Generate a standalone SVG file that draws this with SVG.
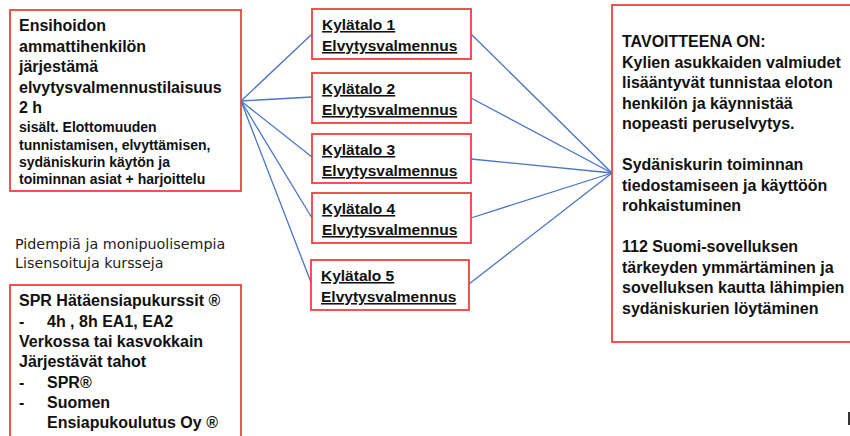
<svg xmlns="http://www.w3.org/2000/svg" width="850" height="436" viewBox="0 0 850 436">
<style>
.box{fill:#fff;stroke:#f04040;stroke-width:1.8}
.b{font-family:"Liberation Sans",Arial,sans-serif;font-weight:bold;fill:#111}
.t16{font-size:16px}
.t14{font-size:14px}
.t15{font-size:15.5px;text-decoration:underline}
.reg{font-family:"DejaVu Sans",Verdana,sans-serif;font-size:14.3px;fill:#222}
.con line{stroke:#4a74c4;stroke-width:1.3}
</style>
<rect width="850" height="436" fill="#fff"/>
<g class="con">
<line x1="241" y1="101" x2="312" y2="34"/>
<line x1="241" y1="101" x2="312" y2="97"/>
<line x1="241" y1="101" x2="312" y2="157"/>
<line x1="241" y1="101" x2="312" y2="218"/>
<line x1="241" y1="101" x2="312" y2="285"/>
<line x1="471" y1="34" x2="612" y2="173"/>
<line x1="471" y1="98" x2="612" y2="173"/>
<line x1="471" y1="159" x2="612" y2="173"/>
<line x1="471" y1="218" x2="612" y2="173"/>
<line x1="469" y1="284" x2="612" y2="173"/>
</g>
<g id="ensihoito">
<rect class="box" x="10" y="10" width="231" height="181"/>
<text class="b t16" x="19"><tspan x="19" y="31">Ensihoidon</tspan><tspan x="19" y="52">ammattihenkilön</tspan><tspan x="19" y="72">järjestämä</tspan><tspan x="19" y="93">elvytysvalmennustilaisuus</tspan><tspan x="19" y="113">2 h</tspan></text>
<text class="b t14" x="19"><tspan x="19" y="132">sisält. Elottomuuden</tspan><tspan x="19" y="150">tunnistamisen, elvyttämisen,</tspan><tspan x="19" y="167">sydäniskurin käytön ja</tspan><tspan x="19" y="184">toiminnan asiat + harjoittelu</tspan></text>
</g>
<g id="lisatieto">
<text class="reg"><tspan x="15" y="249">Pidempiä ja monipuolisempia</tspan><tspan x="15" y="268">Lisensoituja kursseja</tspan></text>
</g>
<g id="spr">
<rect class="box" x="10" y="285" width="231" height="160"/>
<text class="b t16"><tspan x="19" y="306">SPR Hätäensiapukurssit ®</tspan><tspan x="19" y="327">-</tspan><tspan x="47" y="327">4h , 8h EA1, EA2</tspan><tspan x="19" y="347">Verkossa tai kasvokkain</tspan><tspan x="19" y="367">Järjestävät tahot</tspan><tspan x="19" y="388">-</tspan><tspan x="47" y="388">SPR®</tspan><tspan x="19" y="408">-</tspan><tspan x="47" y="408">Suomen</tspan><tspan x="47" y="428">Ensiapukoulutus Oy ®</tspan></text>
</g>
<g id="kylatalo1">
<rect class="box" x="312" y="9" width="159" height="50"/>
<text class="b t15"><tspan x="322" y="30">Kylätalo 1</tspan><tspan x="322" y="51">Elvytysvalmennus</tspan></text>
</g>
<g id="kylatalo2">
<rect class="box" x="312" y="73" width="159" height="50"/>
<text class="b t15"><tspan x="322" y="94">Kylätalo 2</tspan><tspan x="322" y="115">Elvytysvalmennus</tspan></text>
</g>
<g id="kylatalo3">
<rect class="box" x="312" y="134" width="159" height="49"/>
<text class="b t15"><tspan x="322" y="155">Kylätalo 3</tspan><tspan x="322" y="176">Elvytysvalmennus</tspan></text>
</g>
<g id="kylatalo4">
<rect class="box" x="312" y="193" width="159" height="50"/>
<text class="b t15"><tspan x="322" y="214">Kylätalo 4</tspan><tspan x="322" y="235">Elvytysvalmennus</tspan></text>
</g>
<g id="kylatalo5">
<rect class="box" x="311" y="260" width="158" height="50"/>
<text class="b t15"><tspan x="321" y="281">Kylätalo 5</tspan><tspan x="321" y="302">Elvytysvalmennus</tspan></text>
</g>
<g id="tavoite">
<rect class="box" x="612" y="5" width="260" height="337"/>
<text class="b t16"><tspan x="622" y="47">TAVOITTEENA ON:</tspan><tspan x="622" y="67.5">Kylien asukkaiden valmiudet</tspan><tspan x="622" y="88">lisääntyvät tunnistaa eloton</tspan><tspan x="622" y="108.5">henkilön ja käynnistää</tspan><tspan x="622" y="129">nopeasti peruselvytys.</tspan><tspan x="622" y="170">Sydäniskurin toiminnan</tspan><tspan x="622" y="190.5">tiedostamiseen ja käyttöön</tspan><tspan x="622" y="211">rohkaistuminen</tspan><tspan x="622" y="252">112 Suomi-sovelluksen</tspan><tspan x="622" y="272.5">tärkeyden ymmärtäminen ja</tspan><tspan x="622" y="293">sovelluksen kautta lähimpien</tspan><tspan x="622" y="313.5">sydäniskurien löytäminen</tspan></text>
</g>
<rect x="848" y="412" width="2" height="13" fill="#333"/>
</svg>
